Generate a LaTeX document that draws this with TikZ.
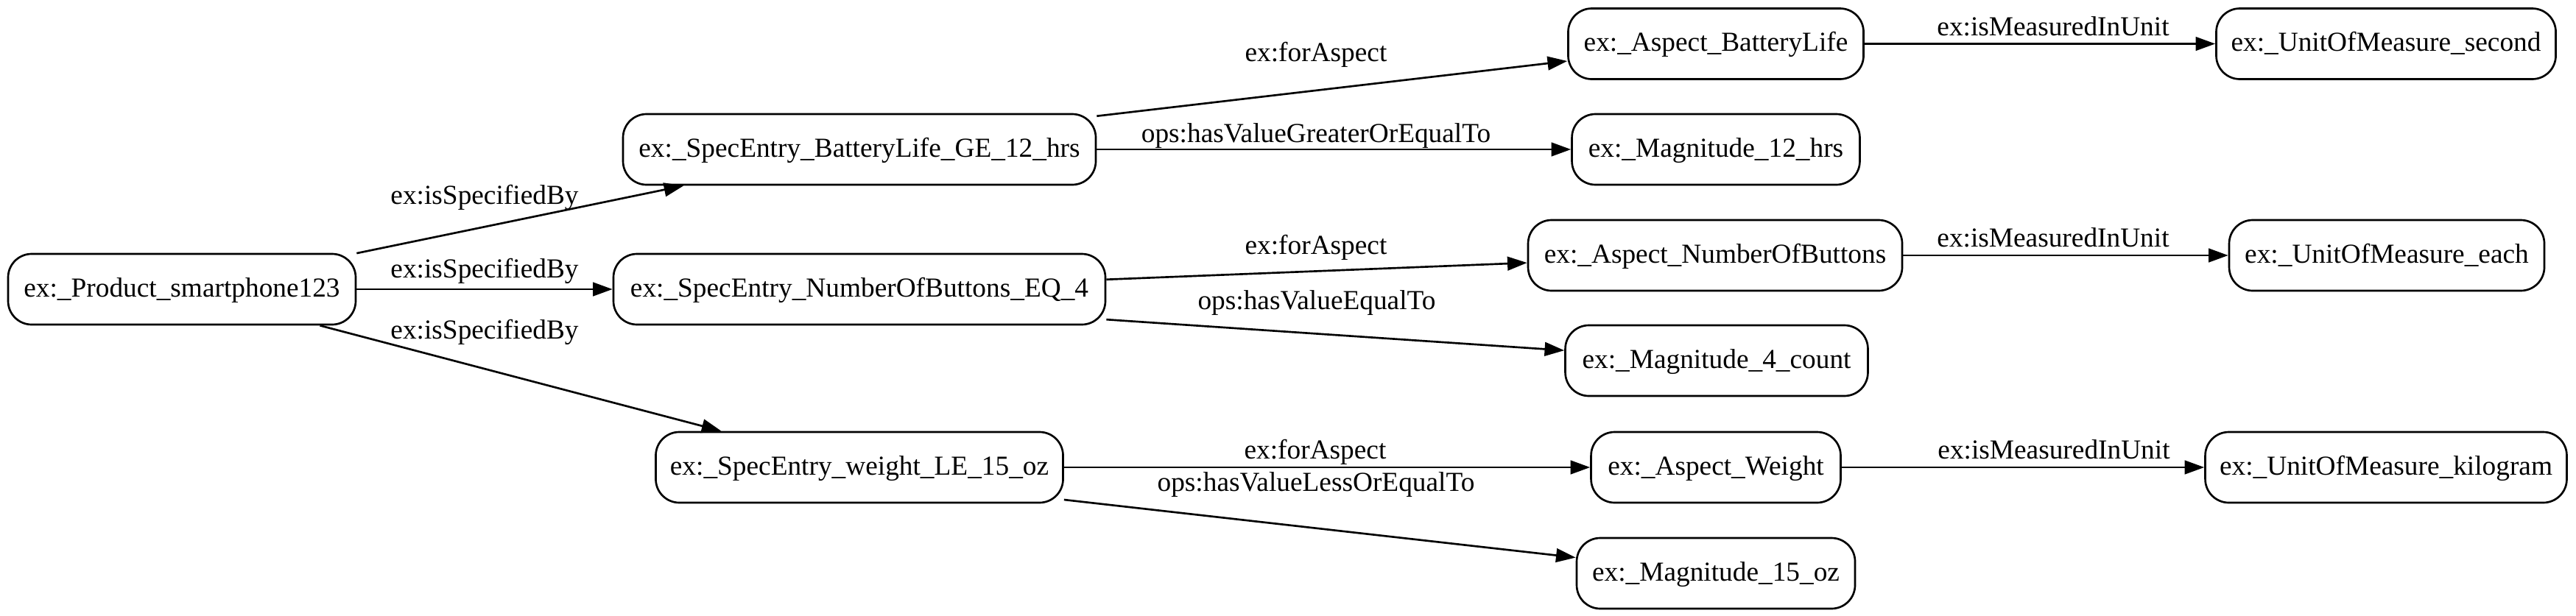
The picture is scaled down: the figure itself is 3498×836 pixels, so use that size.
\documentclass[tikz,border=0pt]{standalone}
\usepackage{fontspec}
\setmainfont{Liberation Serif}
\usetikzlibrary{arrows.meta}
\tikzset{
  ent/.style={draw, line width=1pt, rounded corners=12pt, minimum height=36pt,
    inner sep=0pt, text height=10.5pt, text depth=3pt, font=\fontsize{14}{16}\selectfont},
  lbl/.style={anchor=base, inner sep=0pt, font=\fontsize{14}{16}\selectfont},
  rel/.style={line width=1pt, -{Triangle[length=10pt,width=7pt]}},
}
\begin{document}
\begin{tikzpicture}[x=0.375pt,y=-0.375pt]
\useasboundingbox (0,0) rectangle (3498,836);
% nodes
\node[ent, minimum width=177pt]   (prod)  at (247,393)   {ex:\_Product\_smartphone123};
\node[ent, minimum width=240.75pt](seba)  at (1167,203)  {ex:\_SpecEntry\_BatteryLife\_GE\_12\_hrs};
\node[ent, minimum width=250.5pt] (sebu)  at (1167,393)  {ex:\_SpecEntry\_NumberOfButtons\_EQ\_4};
\node[ent, minimum width=207.4pt] (sew)   at (1167,635)  {ex:\_SpecEntry\_weight\_LE\_15\_oz};
\node[ent, minimum width=150.4pt] (aba)   at (2330,59.5) {ex:\_Aspect\_BatteryLife};
\node[ent, minimum width=146.6pt] (m12)   at (2330,203)  {ex:\_Magnitude\_12\_hrs};
\node[ent, minimum width=190.5pt] (abu)   at (2329,347)  {ex:\_Aspect\_NumberOfButtons};
\node[ent, minimum width=154.1pt] (m4)    at (2331,490)  {ex:\_Magnitude\_4\_count};
\node[ent, minimum width=127.1pt] (aw)    at (2330,635)  {ex:\_Aspect\_Weight};
\node[ent, minimum width=141.75pt](m15)   at (2330,779)  {ex:\_Magnitude\_15\_oz};
\node[ent, minimum width=172.9pt] (usec)  at (3240,59.5) {ex:\_UnitOfMeasure\_second};
\node[ent, minimum width=160.5pt] (ueach) at (3241,347)  {ex:\_UnitOfMeasure\_each};
\node[ent, minimum width=184.1pt] (ukg)   at (3240,635)  {ex:\_UnitOfMeasure\_kilogram};
% edges
\draw[rel] (prod) -- (seba) node[lbl] (l1) at (658,277) {ex:isSpecifiedBy};
\draw[rel] (prod) -- (sebu) node[lbl] (l2) at (658,377) {ex:isSpecifiedBy};
\draw[rel] (prod) -- (sew)  node[lbl] (l3) at (658,460) {ex:isSpecifiedBy};
\draw[rel] (seba.8) -- (aba) node[lbl] (l4) at (1787,83) {ex:forAspect};
\draw[rel] (seba) -- (m12) node[lbl] (l5) at (1787,193) {ops:hasValueGreaterOrEqualTo};
\draw[rel] (aba) -- (usec) node[lbl] (l6) at (2788,48) {ex:isMeasuredInUnit};
\draw[rel] (sebu) -- (abu) node[lbl] (l7) at (1787,345) {ex:forAspect};
\draw[rel] (sebu.-7) -- (m4) node[lbl] (l8) at (1788,420) {ops:hasValueEqualTo};
\draw[rel] (abu) -- (ueach) node[lbl] (l9) at (2788,335) {ex:isMeasuredInUnit};
\draw[rel] (sew) -- (aw) node[lbl] (l10) at (1786,623) {ex:forAspect};
\draw[rel] (sew.-9) -- (m15) node[lbl] (l11) at (1787,667) {ops:hasValueLessOrEqualTo};
\draw[rel] (aw) -- (ukg) node[lbl] (l12) at (2789,623) {ex:isMeasuredInUnit};
\end{tikzpicture}
\end{document}
